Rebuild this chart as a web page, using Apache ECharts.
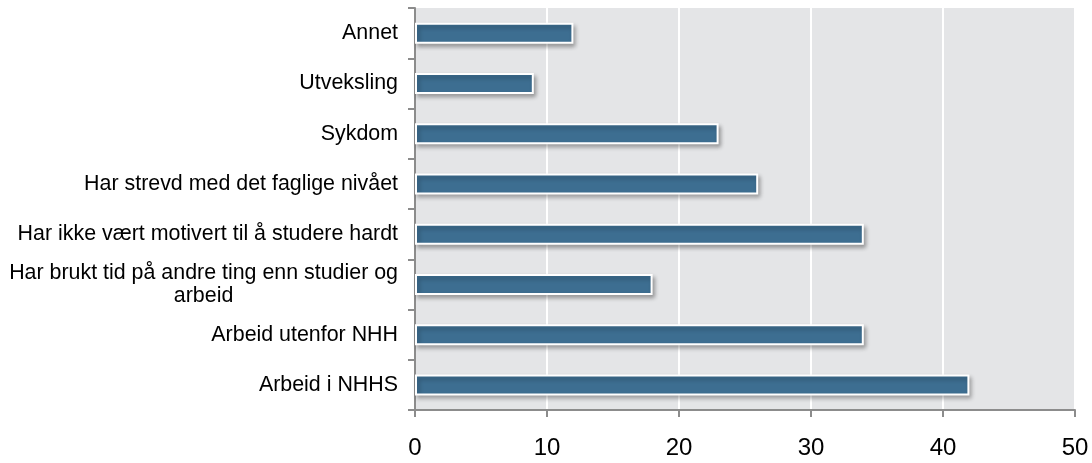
<!DOCTYPE html>
<html>
<head>
<meta charset="utf-8">
<script src="https://cdn.jsdelivr.net/npm/echarts@6/dist/echarts.min.js"></script>
<style>
  html, body { margin: 0; padding: 0; background: #ffffff; }
  #chart { width: 1092px; height: 463px; }
</style>
</head>
<body>
<div id="chart"></div>
<script>
// Reasons listed bottom-to-top (first entry sits at the bottom of the axis)
const categories = [
  'Arbeid i NHHS',
  'Arbeid utenfor NHH',
  'Har brukt tid på andre ting enn studier og\narbeid',
  'Har ikke vært motivert til å studere hardt',
  'Har strevd med det faglige nivået',
  'Sykdom',
  'Utveksling',
  'Annet'
];
const values = [42, 34, 18, 34, 26, 23, 9, 12];
const xTicks = [0, 10, 20, 30, 40, 50];

const FONT = 'Liberation Sans, Arial, sans-serif';

const chart = echarts.init(document.getElementById('chart'));
chart.setOption({
  animation: false,
  grid: {
    left: 415, right: 17, top: 8, bottom: 53,
    show: true, backgroundColor: '#e4e5e7', borderWidth: 0
  },
  xAxis: {
    type: 'value',
    min: xTicks[0], max: xTicks[xTicks.length - 1], interval: 10,
    axisLine: { show: true, lineStyle: { color: '#8c8c8c', width: 2 } },
    axisTick: { show: true, length: 7, lineStyle: { color: '#8c8c8c', width: 2 } },
    splitLine: { show: true, lineStyle: { color: '#ffffff', width: 2 } },
    axisLabel: {
      color: '#000000', fontSize: 24, fontFamily: FONT,
      margin: 26
    }
  },
  yAxis: {
    type: 'category',
    data: categories,
    axisLine: { show: true, lineStyle: { color: '#8c8c8c', width: 2 } },
    axisTick: { show: true, length: 7, lineStyle: { color: '#8c8c8c', width: 2 } },
    splitLine: { show: false },
    axisLabel: {
      color: '#000000', fontSize: 21.4, fontFamily: FONT,
      margin: 17, lineHeight: 23,
      formatter: function (v) {
        if (v.indexOf('\n') >= 0) {
          return v.split('\n').map(function (s) { return '{m|' + s + '}'; }).join('\n');
        }
        return v;
      },
      rich: {
        m: { align: 'center', color: '#000000', fontSize: 21.4, lineHeight: 23, fontFamily: FONT }
      }
    }
  },
  series: [{
    type: 'bar',
    data: values,
    barWidth: 21,
    itemStyle: {
      color: '#3d6e91',
      borderColor: '#ffffff',
      borderWidth: 2,
      shadowColor: 'rgba(0,0,0,0.3)',
      shadowBlur: 4,
      shadowOffsetX: 2,
      shadowOffsetY: 3
    }
  }]
});
</script>
</body>
</html>
